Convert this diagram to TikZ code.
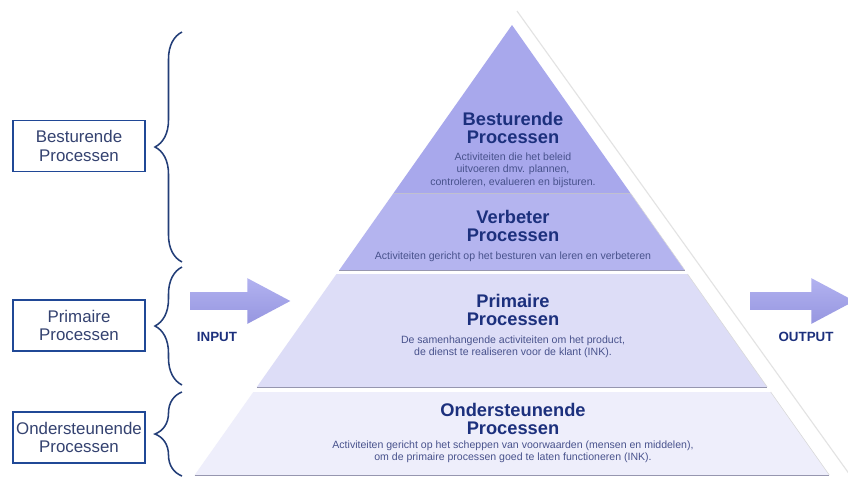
\documentclass[tikz,border=0pt]{standalone}
\usepackage{fontspec}
\setmainfont{Liberation Sans}
\usetikzlibrary{positioning,shapes.arrows,decorations.pathreplacing}
\definecolor{titlenavy}{RGB}{28,48,125}
\definecolor{desctext}{RGB}{72,82,140}
\definecolor{boxline}{RGB}{32,72,150}
\definecolor{boxtext}{RGB}{52,66,112}
\definecolor{bracenavy}{RGB}{35,62,120}
\definecolor{laytop}{RGB}{168,168,236}
\definecolor{layverb}{RGB}{180,180,239}
\definecolor{layprim}{RGB}{221,221,247}
\definecolor{layond}{RGB}{238,238,251}
\definecolor{arrowtop}{RGB}{178,178,240}
\definecolor{arrowbot}{RGB}{150,150,224}
\definecolor{edgegray}{RGB}{150,150,175}
\tikzset{
  procbox/.style={draw=boxline, line width=1.3pt, minimum width=3.3cm, minimum height=1.275cm,
    inner sep=0pt, align=center, text=boxtext, font=\fontsize{12}{13}\selectfont},
  curly/.style={draw=bracenavy, line width=1.1pt, decorate, decoration={brace, amplitude=0.675cm}},
  bigarrow/.style={single arrow, top color=arrowtop, bottom color=arrowbot, inner xsep=0pt,
    inner ysep=0.2125cm, single arrow head extend=0.35cm, single arrow tip angle=56},
  iolabel/.style={text=titlenavy, font=\fontsize{9.5}{11}\selectfont\bfseries},
  ltitle/.style={inner sep=0pt, align=center, text=titlenavy, font=\fontsize{13}{13.3}\selectfont\bfseries},
  ldesc/.style={inner sep=0pt, align=center, text=desctext, font=\fontsize{7.5}{8.9}\selectfont},
  layedge/.style={draw=edgegray, line width=0.6pt}
}
\begin{document}
\begin{tikzpicture}[x=0.025cm,y=-0.025cm]
\clip (0,0) rectangle (848,476);
\fill[white] (0,0) rectangle (848,476);
% pyramid
\draw[gray!22, line width=0.8pt] (517,11) -- (855,482);
\fill[layond] (253.3,392) -- (770.7,392) -- (829.3,475) -- (194.7,475) -- cycle;
\fill[layprim] (336.5,274) -- (687.5,274) -- (767.2,387) -- (256.8,387) -- cycle;
\fill[layverb] (393.6,193) -- (630.4,193) -- (684.7,270) -- (339.3,270) -- cycle;
\fill[laytop] (512,25) -- (630.4,193) -- (393.6,193) -- cycle;
\draw[gray!30] (630.4,193) -- (684.7,270) (687.5,274) -- (767.2,387) (770.7,392) -- (829.3,475);
\draw[layedge, draw=edgegray!60] (393.6,193) -- (630.4,193);
\draw[layedge] (339.3,270) -- (684.7,270);
\draw[layedge] (256.8,387) -- (767.2,387);
\draw[layedge] (194.7,475) -- (829.3,475);
% texts in the layers
\node[ltitle] at (513,128) (tbest) {Besturende\\Processen};
\node[ldesc, below=0.2cm of tbest] (dbest) {Activiteiten die het beleid\\uitvoeren dmv. plannen,\\controleren, evalueren en bijsturen.};
\node[ltitle] at (513,226) (tverb) {Verbeter\\Processen};
\node[ldesc, below=0.22cm of tverb] (dverb) {Activiteiten gericht op het besturen van leren en verbeteren};
\node[ltitle] at (513,310) (tprim) {Primaire\\Processen};
\node[ldesc, below=0.22cm of tprim] (dprim) {De samenhangende activiteiten om het product,\\de dienst te realiseren voor de klant (INK).};
\node[ltitle] at (513,419) (tond) {Ondersteunende\\Processen};
\node[ldesc, below=0.12cm of tond] (dond) {Activiteiten gericht op het scheppen van voorwaarden (mensen en middelen),\\om de primaire processen goed te laten functioneren (INK).};
% boxes and braces
\node[procbox] at (79,146) (bbest) {Besturende\\Processen};
\node[procbox] at (79,325.5) (bprim) {Primaire\\Processen};
\node[procbox] at (79,437.5) (bond) {Ondersteunende\\Processen};
\coordinate (c1a) at (182,262); \coordinate (c1b) at (182,32);
\coordinate (c2a) at (182,385); \coordinate (c2b) at (182,267);
\coordinate (c3a) at (182,476); \coordinate (c3b) at (182,392);
\draw[curly] (c1a) -- (c1b);
\draw[curly] (c2a) -- (c2b);
\draw[curly] (c3a) -- (c3b);
% input and output
\node[bigarrow, minimum height=2.5cm, anchor=tail] at (190,301) (inarr) {};
\node[iolabel] at (217,337) (intxt) {INPUT};
\node[bigarrow, minimum height=2.6cm, anchor=tail] at (750,301) (outarr) {};
\node[iolabel] at (806,337) (outtxt) {OUTPUT};
\end{tikzpicture}
\end{document}
